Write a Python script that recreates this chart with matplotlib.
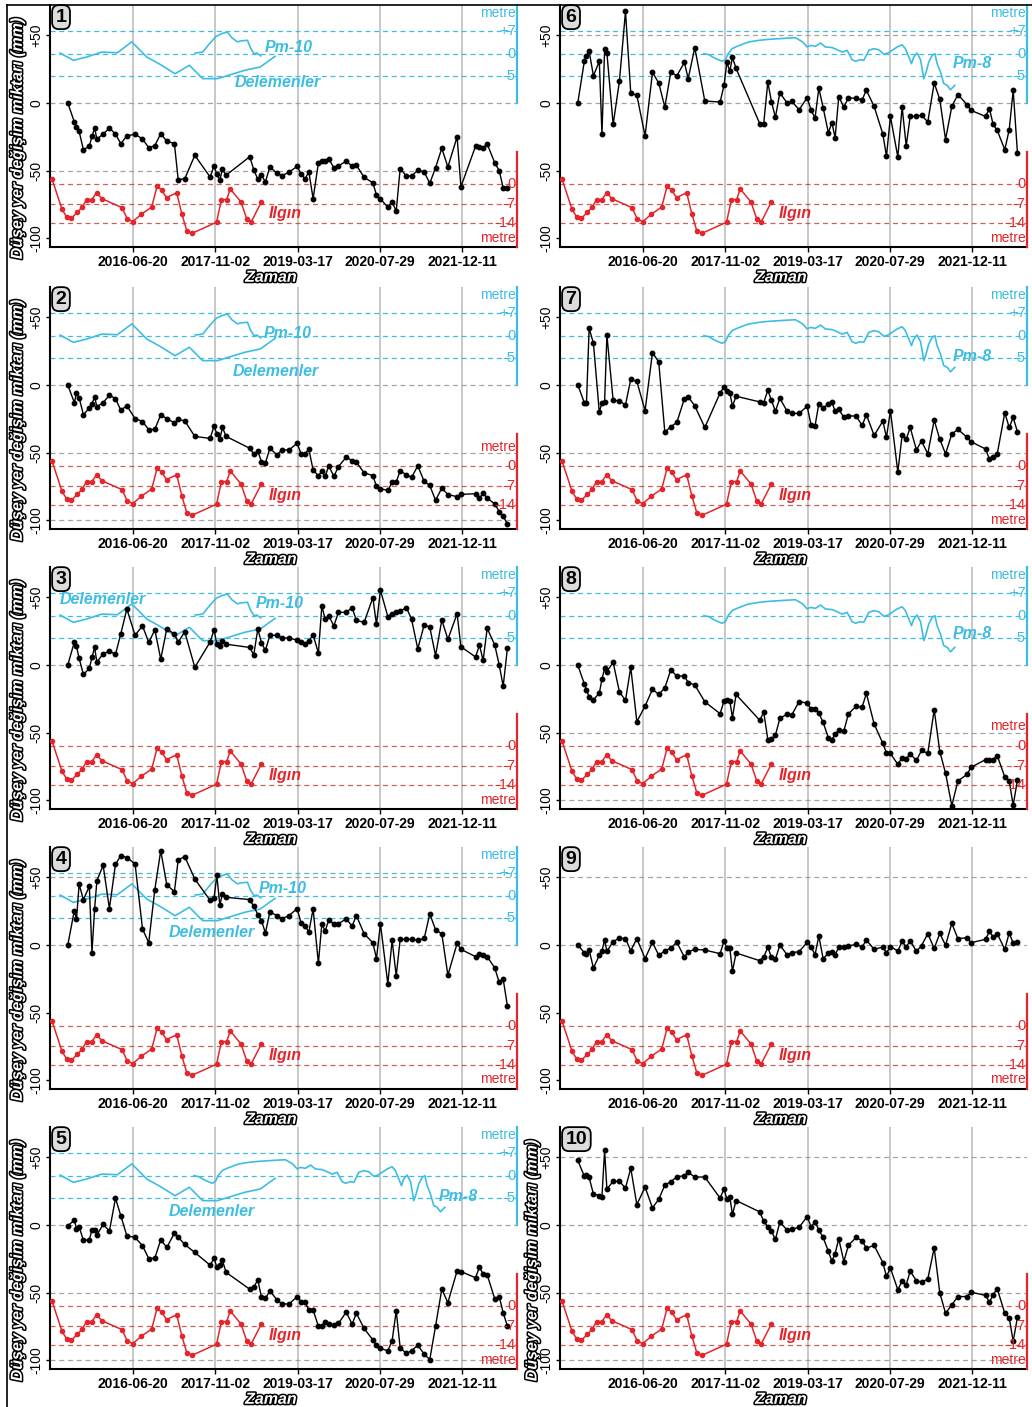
import matplotlib
matplotlib.use("Agg")
import matplotlib.pyplot as plt
import matplotlib.patheffects as pe
import numpy as np
import pandas as pd

plt.rcParams['font.family'] = ['Liberation Sans', 'DejaVu Sans']

# InSAR acquisition dates (same stack for every point)
sar_dates = ['2015-05-20', '2015-06-29', '2015-07-12', '2015-07-28', '2015-08-23', '2015-09-28', '2015-10-14',
             '2015-10-30', '2015-11-13', '2015-12-21', '2016-01-28', '2016-03-05', '2016-04-06', '2016-05-13',
             '2016-07-02', '2016-08-16', '2016-09-23', '2016-10-30', '2016-12-05', '2017-01-11', '2017-02-26',
             '2017-03-21', '2017-04-30', '2017-06-30', '2017-10-01', '2017-10-25', '2017-11-11', '2017-11-29',
             '2017-12-15', '2018-01-06', '2018-05-30', '2018-06-23', '2018-07-18', '2018-08-09', '2018-09-02',
             '2018-09-29', '2018-11-12', '2018-12-11', '2019-01-24', '2019-03-14', '2019-04-07', '2019-05-01',
             '2019-05-24', '2019-06-19', '2019-07-21', '2019-08-11', '2019-08-31', '2019-09-22', '2019-10-23',
             '2019-11-20', '2020-01-06', '2020-02-11', '2020-03-08', '2020-04-24', '2020-06-16', '2020-07-08',
             '2020-08-01', '2020-09-15', '2020-10-11', '2020-11-05', '2020-11-29', '2021-01-06', '2021-02-06',
             '2021-03-16', '2021-04-24', '2021-05-28', '2021-07-02', '2021-08-09', '2021-09-15', '2021-11-10',
             '2021-12-03', '2022-03-02', '2022-03-26', '2022-04-17', '2022-05-12', '2022-06-27', '2022-07-24',
             '2022-08-17', '2022-09-12']

# vertical displacement (mm) for the 10 points
p1 = [0, -14, -18, -21, -34.5, -32, -24.6, -18.5, -26.6, -23,
      -18.5, -23, -30, -24.4, -23, -26.6, -33, -31.5, -22.7, -28.3,
      -30, -56.7, -56, -38.7, -54.7, -46.5, -52.7, -57, -49, -53.4,
      -39.7, -49.3, -56.4, -53.4, -58.4, -47.3, -52, -53.7, -51.2, -46.8,
      -52.7, -56, -51, -70.7, -44.3, -43, -42.9, -41.4, -47.8, -46.5,
      -43, -46.8, -46, -55, -59, -68, -71, -77, -73, -80,
      -48.5, -54, -54, -49.8, -51, -59.4, -47.8, -33.5, -47.3, -25,
      -62, -32, -32.5, -33, -30.3, -44.3, -50, -62.8, -62.5]
p2 = [0, -13, -6, -9.3, -22, -17, -13.7, -9, -16, -13,
      -7.6, -10, -18.6, -15.4, -24.8, -27, -33, -32.8, -22, -24.8,
      -28, -25.5, -26.5, -38, -39.5, -30.4, -36, -40, -31.4, -38,
      -46.8, -51, -49, -56.6, -57.8, -46.8, -51.7, -48, -48, -43,
      -51, -51, -47.3, -63, -67, -63.7, -67.6, -59.8, -67.6, -60.3,
      -53.4, -55.9, -57, -65, -67, -75, -76.7, -78, -72, -71.6,
      -63.5, -66.4, -68.4, -59.8, -71.3, -74.3, -85.3, -76.2, -81, -82.6,
      -80.9, -80.4, -83.6, -80, -83.6, -88, -93.6, -97, -103]
p3 = [0, 17, 13.7, 5, -7, -2.5, 5.6, 13, 2.2, 8.3,
      10.3, 7.8, 23, 41.4, 22, 29, 16.7, 26, 4.4, 27,
      22.8, 17, 24.5, -1.7, 17, 26, 15.4, 14.2, 17.6, 15.4,
      13, 7.4, 26.7, 16.4, 10.8, 22, 22, 20, 20, 18.4,
      16.7, 15.4, 17.9, 22.3, 8.8, 43.9, 33.8, 36.3, 29, 39,
      39, 42.4, 33, 31.6, 49.8, 30, 55.4, 35.8, 38, 39.5,
      40, 42.4, 34, 12, 29.7, 28, 6.9, 33.3, 19, 38,
      13.5, 6, 14.7, 3.4, 27.2, 14.7, 0, -15.7, 12.7]
p4 = [0, 25.5, 18.9, 44.9, 33.6, 43.4, -5.6, 26.7, 47.5, 59,
      27, 59.8, 66, 64.7, 60, 12, 1.7, 41, 69.8, 44.4,
      39.5, 63, 65.4, 48.8, 33, 34.8, 51.5, 29.4, 38, 35.3,
      33.6, 28.7, 22.5, 18, 9, 24.3, 21.8, 19.4, 21.8, 27,
      16, 14, 9.6, 26.7, -13.5, 15.7, 10.3, 18.4, 15.7, 15.7,
      19.4, 14, 21.8, 8.3, 1.7, -10, 15.7, -28.7, 3.4, -22.8,
      4.2, 4.2, 4.2, 3.4, 4.9, 23, 11.3, 8.3, -22.3, 1.2,
      -3.2, -8.6, -7, -7.4, -8.6, -17, -27.7, -25.2, -45.3]
p5 = [-0.5, 3.5, -2.7, -1.2, -11.4, -10.9, -3.5, -3.7, -7.4, 0.5,
      -4.5, 19.8, 7, -8, -9.2, -15.3, -24.8, -24.5, -10.9, -16.6,
      -6, -8.9, -14.4, -20.3, -29.7, -24.5, -31.2, -29.7, -26.2, -35,
      -47.5, -46, -40.6, -53.5, -54.2, -48.8, -55.4, -58.4, -58.4, -53,
      -56.7, -57.2, -62.9, -62.9, -74.8, -74.5, -71.5, -73.3, -74.3, -72.8,
      -64.4, -73.3, -65.3, -76.5, -85, -88.9, -91.3, -93, -85.6, -63.6,
      -90.8, -95, -93, -88.9, -95.5, -99.5, -74.8, -47.5, -57.4, -33.9,
      -34.4, -39, -31, -36.4, -36.9, -54.7, -53, -64.9, -74.8]
p6 = [0, 31, 35, 38.4, 20.2, 30.8, -23, 39.7, 37, -15.8,
      16, 67.7, 7.4, 5.7, -24.4, 22.7, 14.8, -3, 22.7, 20.2,
      30, 18, 41, 1.5, 0.7, 13.3, 30, 23.6, 33.7, 25.6,
      -15.3, -15.3, 15.5, 1, -10.6, 7.6, 0, 1.2, -4.9, 3.9,
      -5.4, -11, 11, -3.4, -22, -14.5, -25.6, 4.7, -3, 3.9,
      3.4, 2.5, 9.4, -2.5, -23, -39.4, -9.9, -40, -3, -31.8,
      -9.9, -9.9, -9, -14, 14.8, 2.7, -27, -2.5, 6.2, -1.2,
      -5.4, -9.9, -4.2, -15.8, -20.2, -34.5, -19.7, 9.4, -37]
p7 = [0.2, -13.2, -13, 42, 31, -20.3, -13, -12.5, 36.8, -11.3,
      -11.8, -14.7, 4.2, 2.7, -19, 24, 17, -34.8, -30.9, -27.7,
      -10, -8.8, -15.4, -31.4, -5.9, -1.5, -4.4, -5.6, -15.7, -8.3,
      -12.5, -13, -3.9, -11.3, -19.4, -9.8, -19.4, -21, -21, -15.7,
      -29.7, -30.1, -13.7, -16.7, -14.2, -12.7, -19.4, -17.9, -24, -22.8,
      -23, -29.9, -22, -37.3, -26.7, -38.7, -18.9, -64.5, -37.3, -40.2,
      -31.4, -48, -41.4, -50.9, -26, -40.2, -50.9, -36.3, -32.8, -38.7,
      -41.9, -47.3, -54.9, -52.9, -51, -20.6, -31.4, -24, -34.6]
p8 = [0, -14, -18.4, -23.8, -25.7, -20.8, -10.5, -2.5, -4.9, 2,
      -19.9, -26.2, -1.7, -41.9, -30.4, -17.9, -21.8, -16.9, -3.7, -8.1,
      -8.1, -13, -14.7, -27.2, -36, -26.5, -25.7, -26.5, -39, -21.8,
      -40.9, -34.8, -55.1, -54.4, -52, -39.5, -36.3, -36.8, -27, -28.2,
      -32.6, -32.6, -35.5, -42.4, -53.9, -55.1, -51.2, -48.3, -48.8, -36,
      -30.6, -31.1, -21, -43.6, -58, -65, -65.4, -73.5, -68.6, -69.4,
      -65.7, -70.6, -63.2, -65.4, -33, -64, -80, -104, -85.8, -80.9,
      -75.7, -70, -70, -70, -67, -82.8, -85.8, -103.7, -85]
p9 = [0, -5.7, -7, -3.5, -17, -7.6, -4.4, 3.7, -4.7, 2.5,
      5.2, 4.7, -4.2, 4.7, -10, 2, -7.6, -4.4, -2.2, 2,
      -8.9, -5, -3.2, -3.7, -6.4, 3, -2.2, -2.5, -19.5, -5.9,
      -11.6, -8.9, -1.7, -9.1, -10.6, 0, -7.2, -5.7, -4.9, 2,
      -1.5, -7.2, 6.7, -10, -6.2, -4.9, -7.2, -1.7, -1.7, -0.7,
      0.5, -1.5, 3.7, -3.2, -1.5, -5.7, -1.2, -4.4, 2.7, -1.5,
      3.2, -4.7, -0.5, 8.4, -2.5, 8.6, -0.2, 16, 4.7, 5.4,
      1.7, 4.2, 10, 6, 8.4, -3.2, 9, 1.2, 2.2]
p10 = [47.9, 36, 37, 35.2, 23, 21.8, 21, 55.3, 26.6, 32.3,
       32.3, 27.3, 42, 15.1, 28, 12.7, 19, 29.5, 32, 35.7,
       36.5, 39, 35.5, 35.5, 19.9, 26.8, 19, 20.6, 7.9, 18.1,
       9.7, 2.7, -1.2, -4.5, -10.7, 2.2, -3.7, -3, -1.7, 6.2,
       -1.2, 2.2, -3.7, -9.2, -19.4, -26.6, -21.1, -10.2, -27, -14.9,
       -9.2, -11.7, -17.1, -15.1, -27.8, -38, -31.8, -47.9, -41.4, -44.2,
       -34.2, -41.2, -42.2, -40, -16.9, -50.1, -65.3, -59, -52.9, -52.9,
       -49.6, -52.1, -57, -51.6, -47.1, -65.3, -68.7, -86, -68.2]

# Ilgın groundwater level (metre)
ilgin_dates = ['2015-02-14', '2015-04-15', '2015-05-14', '2015-06-11', '2015-07-18', '2015-08-15', '2015-09-12',
               '2015-10-13', '2015-11-12', '2015-12-13', '2016-04-14', '2016-05-15', '2016-06-18', '2016-08-10',
               '2016-10-11', '2016-11-13', '2016-12-11', '2017-01-09', '2017-03-12', '2017-04-12', '2017-05-12',
               '2017-06-12', '2017-11-09', '2017-12-09', '2018-01-10', '2018-01-31', '2018-04-07', '2018-05-12',
               '2018-06-07', '2018-08-09']
ilgin_m = [1.7, -9, -11.8, -12.2, -10, -8.2, -5.5, -5.5, -3.1, -5.2, -8.4, -12.4, -13.4, -10.7, -8.2,
           -0.7, -2.2, -4.8, -3.1, -10.6, -16.6, -17.6, -13.6, -5.5, -5.5, -1.7, -6.4, -12.5, -13.6, -6.3]

# Delemenler, Pm-10, Pm-8 wells (metre)
delem_dates = ['2015-04-03', '2015-06-23', '2015-09-12', '2015-12-13', '2016-03-17', '2016-06-12', '2016-09-11',
               '2016-12-01', '2017-03-02', '2017-05-28', '2017-08-17', '2017-11-15', '2018-02-20', '2018-05-02',
               '2018-08-01', '2018-10-31']
delem_m = [0.2, -1.5, -0.75, 0.5, 0.3, 3.7, -0.75, -2.4, -4.5, -2.6, -5.6, -5.6, -4.5, -3.7, -3.0, -0.6]

pm10_dates = ['2017-07-02', '2017-08-17', '2017-09-27', '2017-11-06', '2017-12-11', '2018-01-14', '2018-02-10',
              '2018-03-16', '2018-04-05', '2018-05-16', '2018-06-05', '2018-06-25', '2018-07-12', '2018-08-05']
pm10_m = [0.2, 0.5, 3.1, 5.4, 6.3, 6.8, 5.0, 3.7, 4.0, 4.2, 1.6, 0.0, 0.2, -0.5]

pm8_dates = ['2017-06-24', '2017-07-24', '2017-08-24', '2017-09-19', '2017-10-13', '2017-11-02', '2017-11-19',
             '2017-12-13', '2018-01-12', '2018-02-22', '2018-03-24', '2018-05-24', '2018-07-24', '2018-09-23',
             '2018-11-22', '2019-01-02', '2019-01-22', '2019-02-15', '2019-03-14', '2019-04-03', '2019-05-03',
             '2019-06-03', '2019-07-03', '2019-08-13', '2019-09-12', '2019-10-13', '2019-11-12', '2019-12-12',
             '2020-01-02', '2020-02-01', '2020-02-21', '2020-03-23', '2020-04-22', '2020-05-22', '2020-06-22',
             '2020-07-18', '2020-08-11', '2020-09-11', '2020-10-11', '2020-10-31', '2020-11-21', '2020-12-07',
             '2020-12-21', '2021-01-10', '2021-01-31', '2021-02-20', '2021-03-06', '2021-03-22', '2021-04-12',
             '2021-04-28', '2021-05-12', '2021-06-01', '2021-06-21', '2021-07-12', '2021-08-01', '2021-08-27']
pm8_m = [0, -0.22, -0.9, -1.34, -1.7, -1.34, 0, 1.57, 2.3, 3.13, 3.66, 4.18, 4.5, 4.7, 4.9, 5.0, 4.4, 3.66,
         2.1, 2.6, 2.3, 3.34, 2.1, 1.9, 1.25, 0.5, 1.04, -1.34, -1.7, -1.34, -1.5, 1.04, 1.57, 1.25, -0.15,
         0.2, 1.04, 2.1, 2.8, 1.57, -0.75, -2.24, -0.75, 0.2, -1.34, -5.6, -4.1, -1.87, -0.37, 0, -2.24, -4.1,
         -6.7, -7.1, -8.1, -7.1]

tick_dates = ['2016-06-20', '2017-11-02', '2019-03-17', '2020-07-29', '2021-12-11']

RED = '#e3262b'
RED_LINE = '#c0453f'
CYAN = '#3dbde2'
GREY = '#a3a3a3'


def to_red(m):
    return -60 + 2.07 * np.asarray(m, dtype=float)


def to_cyan(m):
    m = np.asarray(m, dtype=float)
    return np.where(m >= 0, 36.5 + m * 16.5 / 7, 36.5 + m * 16.5 / 5)


wells = {
    'Delemenler': (delem_dates, delem_m),
    'Pm-10': (pm10_dates, pm10_m),
    'Pm-8': (pm8_dates, pm8_m),
}

panels = [
    dict(num='1', vals=p1, grey=[0, -50], cyan={'Pm-10': ('2018-08-31', 41), 'Delemenler': ('2018-03-02', 15)}, metre=-100),
    dict(num='2', vals=p2, grey=[0, -50, -100], cyan={'Pm-10': ('2018-08-20', 38), 'Delemenler': ('2018-02-15', 10)}, metre=-46),
    dict(num='3', vals=p3, grey=[0], cyan={'Delemenler': ('2015-03-30', 48.5), 'Pm-10': ('2018-07-06', 45.5)}, metre=-100),
    dict(num='4', vals=p4, grey=[50, 0], cyan={'Pm-10': ('2018-07-22', 42), 'Delemenler': ('2017-01-25', 9.5)}, metre=-99),
    dict(num='5', vals=p5, grey=[0, -50, -100], cyan={'Delemenler': ('2017-01-25', 10), 'Pm-8': ('2021-07-22', 21)}, metre=-100),
    dict(num='6', vals=p6, grey=[50, 0], cyan={'Pm-8': ('2021-08-15', 29.5)}, metre=-100),
    dict(num='7', vals=p7, grey=[0, -50], cyan={'Pm-8': ('2021-08-15', 21)}, metre=-100),
    dict(num='8', vals=p8, grey=[0, -50, -100], cyan={'Pm-8': ('2021-08-15', 23)}, metre=-45),
    dict(num='9', vals=p9, grey=[50, 0], cyan={}, metre=-99),
    dict(num='10', vals=p10, grey=[50, 0, -50, -100], cyan={}, metre=-100),
]

W, H = 1032, 1407
fig = plt.figure(figsize=(W / 100, H / 100), dpi=100)

row_tops = [5, 287, 567, 847, 1127]
col_lefts = [50, 560]
ax_w, ax_h = 467, 242

sar = pd.to_datetime(sar_dates)
ticks = pd.to_datetime(tick_dates)
outline = [pe.withStroke(linewidth=2.2, foreground='black')]

for i, cfg in enumerate(panels):
    col, row = divmod(i, 5)
    left = col_lefts[col]
    top = row_tops[row]
    ax = fig.add_axes([left / W, 1 - (top + ax_h) / H, ax_w / W, ax_h / H])

    ax.set_xlim(pd.Timestamp('2015-02-01'), pd.Timestamp('2022-11-09'))
    ax.set_ylim(-106.5, 72.5)

    for t in ticks:
        ax.axvline(t, color='#b8b8b8', lw=1.1, zorder=0)
    for g in cfg['grey']:
        ax.axhline(g, color=GREY, lw=0.9, ls=(0, (4, 3)), zorder=1)

    ytr = ax.get_yaxis_transform()

    # red (Ilgın) scale
    for lev, lab in zip([0, -7, -14], ['0', '-7', '-14']):
        y = float(to_red(lev))
        ax.axhline(y, color=RED_LINE, lw=0.9, ls=(0, (4, 3)), alpha=0.85, zorder=1)
        ax.text(0.997, y, lab, transform=ytr, ha='right', va='center', color=RED, fontsize=10.5, zorder=5)
    ax.text(0.997, cfg['metre'], 'metre', transform=ytr, ha='right', va='center', color=RED, fontsize=10, zorder=5)
    ax.plot([1, 1], [-36, -106.5], transform=ytr, color=RED, lw=1.6, clip_on=False, zorder=6)

    ax.plot(pd.to_datetime(ilgin_dates), to_red(ilgin_m), color=RED, lw=1.1, marker='o', ms=3, zorder=3)
    ax.text(pd.Timestamp('2018-09-25'), -82, 'Ilgın', color=RED, fontsize=11.5, fontweight='bold',
            fontstyle='italic', ha='left', va='center', zorder=5)

    # cyan (wells) scale
    if cfg['cyan']:
        for lev, lab in zip([7, 0, -5], ['+7', '0', '-5']):
            y = float(to_cyan(lev))
            ax.axhline(y, color=CYAN, lw=0.9, ls=(0, (4, 3)), zorder=1)
            ax.text(0.997, y, lab, transform=ytr, ha='right', va='center', color=CYAN, fontsize=10.5, zorder=5)
        ax.text(0.997, 66.5, 'metre', transform=ytr, ha='right', va='center', color=CYAN, fontsize=10, zorder=5)
        ax.plot([1, 1], [0, 72.5], transform=ytr, color=CYAN, lw=1.6, clip_on=False, zorder=6)
        for name, (lx, ly) in cfg['cyan'].items():
            d, m = wells[name]
            ax.plot(pd.to_datetime(d), to_cyan(m), color=CYAN, lw=1.2, zorder=2)
            ax.text(pd.Timestamp(lx), ly, name, color=CYAN, fontsize=11.5, fontweight='bold',
                    fontstyle='italic', ha='left', va='center', zorder=5)

    # displacement
    ax.plot(sar, cfg['vals'], color='black', lw=1.0, marker='o', ms=3.2, zorder=4)

    ax.spines['top'].set_visible(False)
    ax.spines['right'].set_visible(False)
    ax.spines['left'].set_linewidth(1.5)
    ax.spines['bottom'].set_linewidth(1.5)

    ax.set_xticks(ticks)
    ax.set_xticklabels(tick_dates, fontweight='bold', fontsize=10)
    ax.set_yticks([-100, -50, 0, 50])
    ax.set_yticklabels(['-100', '-50', '0', '+50'], rotation=90, va='center', fontsize=10)
    ax.tick_params(axis='x', length=3.5, width=1, pad=2.5)
    ax.tick_params(axis='y', length=3, width=1, pad=2)

    ax.text(0.473, -0.125, 'Zaman', transform=ax.transAxes, ha='center', va='center', color='white',
            fontsize=11.5, fontweight='bold', fontstyle='italic', path_effects=outline)
    if col == 0 or cfg['num'] == '10':
        xl = -0.07 if col == 0 else -0.06
        ax.text(xl, 0.45, 'Düşey yer değişim miktarı (mm)', transform=ax.transAxes, rotation=90,
                ha='center', va='center', color='white', fontsize=11.5, fontweight='bold',
                fontstyle='italic', path_effects=outline)

    ax.text(0.012, 0.985, cfg['num'], transform=ax.transAxes, ha='left', va='top', fontsize=14,
            fontweight='bold', zorder=7,
            bbox=dict(boxstyle='round,pad=0.18,rounding_size=0.35', fc='#dcdcdc', ec='black', lw=1.3))

# outer frame (left and top edges)
fig.add_artist(plt.Line2D([7 / W, 7 / W], [0, 1 - 5 / H], transform=fig.transFigure, color='black', lw=1.2))
fig.add_artist(plt.Line2D([7 / W, 1], [1 - 5 / H, 1 - 5 / H], transform=fig.transFigure, color='black', lw=1.2))

fig.savefig('out.png', dpi=100)
